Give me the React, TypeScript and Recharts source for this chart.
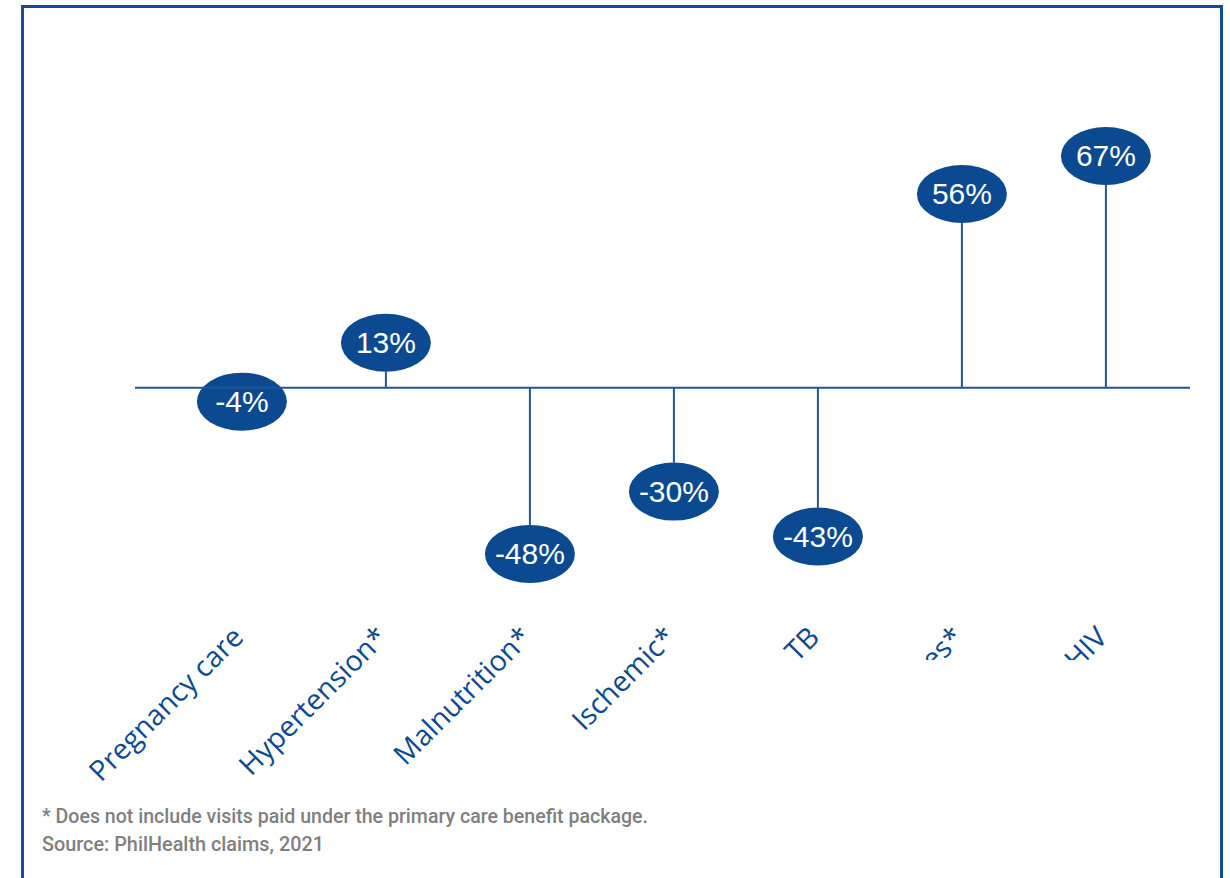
import React from "react";
import { BarChart, Bar, XAxis, YAxis, ReferenceLine } from "recharts";

const categories = [
  "Pregnancy care",
  "Hypertension*",
  "Malnutrition*",
  "Ischemic*",
  "TB",
  "Diabetes*",
  "HIV",
];
const changes = [-4, 13, -48, -30, -43, 56, 67];
const clippedCategories = ["Diabetes*", "HIV"];
const footnotes = [
  "* Does not include visits paid under the primary care benefit package.",
  "Source: PhilHealth claims, 2021",
];
const footnoteWidths = [606, 282];

const data = categories.map((c, i) => ({ category: c, change: changes[i] }));

const NAVY = "#0B4A91";
const LINE = "#1F5699";

const RX = 45;
const RY = 29;

const Lollipop = (props: any) => {
  const { x, y, width, height, payload } = props;
  const v: number = payload.change;
  const cx = x + width / 2;
  const y1 = y;
  const y2 = y + height;
  const endY = v >= 0 ? Math.min(y1, y2) : Math.max(y1, y2);
  const baseY = v >= 0 ? Math.max(y1, y2) : Math.min(y1, y2);
  const stemEnd = v >= 0 ? endY + RY : endY - RY;
  const showStem = v >= 0 ? stemEnd < baseY : stemEnd > baseY;
  return (
    <g>
      {showStem && (
        <line x1={cx} x2={cx} y1={baseY} y2={stemEnd} stroke={LINE} strokeWidth={2} />
      )}
      <ellipse cx={cx} cy={endY} rx={RX} ry={RY} fill={NAVY} />
      <text
        x={cx}
        y={endY + 10}
        textAnchor="middle"
        fill="#ffffff"
        fontSize={30}
        fontFamily="'Liberation Sans', Arial, sans-serif"
      >
        {`${v}%`}
      </text>
    </g>
  );
};

const CategoryTick = (props: any) => {
  const { x, y, payload } = props;
  const ax = x + 3;
  const ay = y + 1;
  const clip = clippedCategories.includes(payload.value);
  const id = `tickclip-${String(payload.value).replace(/[^a-zA-Z]/g, "")}`;
  return (
    <g>
      {clip && (
        <defs>
          <clipPath id={id}>
            <rect x={0} y={0} width={1230} height={660} />
          </clipPath>
        </defs>
      )}
      <g clipPath={clip ? `url(#${id})` : undefined}>
        <text
          x={ax}
          y={ay}
          textAnchor="end"
          transform={`rotate(-45, ${ax}, ${ay})`}
          fill={NAVY}
          fontSize={28.5}
          fontFamily="'Open Sans', 'Noto Sans', sans-serif"
        >
          {payload.value}
        </text>
      </g>
    </g>
  );
};

export default function App() {
  return (
    <div
      style={{
        position: "absolute",
        left: 0,
        top: 0,
        width: 1230,
        height: 878,
        overflow: "hidden",
        background: "#ffffff",
      }}
    >
      <div
        style={{
          position: "absolute",
          left: 21,
          top: 5,
          width: 1196,
          height: 920,
          border: "3px solid #0D4F9C",
        }}
      />
      <div style={{ position: "absolute", left: 0, top: 0 }}>
        <BarChart
          width={1230}
          height={878}
          data={data}
          margin={{ top: 111, right: 40, bottom: 218, left: 135 }}
        >
          <XAxis
            dataKey="category"
            axisLine={false}
            tickLine={false}
            interval={0}
            height={30}
            padding={{ left: 35, right: 12 }}
            tick={<CategoryTick />}
          />
          <YAxis hide type="number" domain={[-70, 80]} allowDataOverflow />
          <ReferenceLine y={0} stroke={LINE} strokeWidth={2} />
          <Bar dataKey="change" isAnimationActive={false} shape={<Lollipop />} />
        </BarChart>
      </div>
      <svg
        width={1230}
        height={878}
        style={{ position: "absolute", left: 0, top: 0, pointerEvents: "none" }}
      >
        {footnotes.map((t, i) => (
          <text
            key={i}
            x={42}
            y={823 + i * 28}
            fill="#7F7F7F"
            fontSize={21}
            fontWeight={500}
            textLength={footnoteWidths[i]}
            lengthAdjust="spacingAndGlyphs"
            fontFamily="Roboto, 'Liberation Sans', sans-serif"
          >
            {t}
          </text>
        ))}
      </svg>
    </div>
  );
}
